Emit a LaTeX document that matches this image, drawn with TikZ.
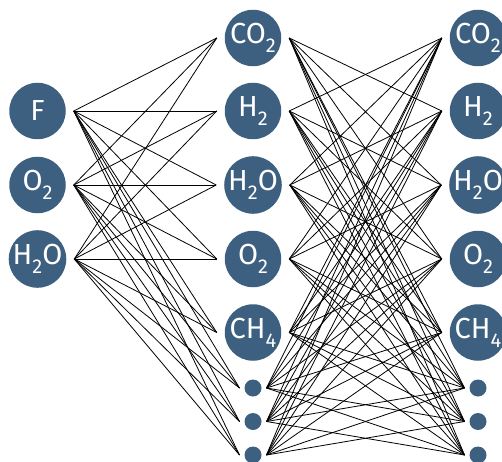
\documentclass[tikz,border=0pt]{standalone}
\usepackage{fontspec}
\setmainfont{Fira Sans}
\definecolor{nodeblue}{RGB}{62,96,128}
\newcommand{\chsub}[1]{\raisebox{-9pt}{\fontsize{20}{20}\selectfont #1}}
\begin{document}
\begin{tikzpicture}[x=1pt,y=1pt,
  bignode/.style={circle, fill=nodeblue, minimum size=56.5pt, inner sep=0pt, outer sep=8pt,
    text=white, font=\fontsize{29}{29}\selectfont},
  dotnode/.style={circle, fill=nodeblue, minimum size=17pt, inner sep=0pt, outer sep=5pt},
  link/.style={black, line width=0.8pt}]
\useasboundingbox (0,0) rectangle (502,461);
\clip (0,0) rectangle (502,461);
% input layer
\node[bignode] (L1) at (37.5,350) {F};
\node[bignode] (L2) at (37.5,276) {O\chsub{2}};
\node[bignode] (L3) at (37.5,202) {H\chsub{2}O};
% hidden and output layers
\foreach \c/\x in {M/253,R/478}{
  \node[bignode] (\c1) at (\x,423) {CO\chsub{2}};
  \node[bignode] (\c2) at (\x,350) {H\chsub{2}};
  \node[bignode] (\c3) at (\x,276) {H\chsub{2}O};
  \node[bignode] (\c4) at (\x,202) {O\chsub{2}};
  \node[bignode] (\c5) at (\x,128.5) {CH\chsub{4}};
  \node[dotnode] (\c6) at (\x,73) {};
  \node[dotnode] (\c7) at (\x,39.5) {};
  \node[dotnode] (\c8) at (\x,6) {};
}
\foreach \i in {1,2,3}{
  \foreach \j in {1,...,8}{
    \draw[link] (L\i.east) -- (M\j.west);
  }
}
\foreach \i in {1,...,8}{
  \foreach \j in {1,...,8}{
    \ifnum\i=\j\else
      \draw[link] (M\i.east) -- (R\j.west);
    \fi
  }
}
\end{tikzpicture}
\end{document}
